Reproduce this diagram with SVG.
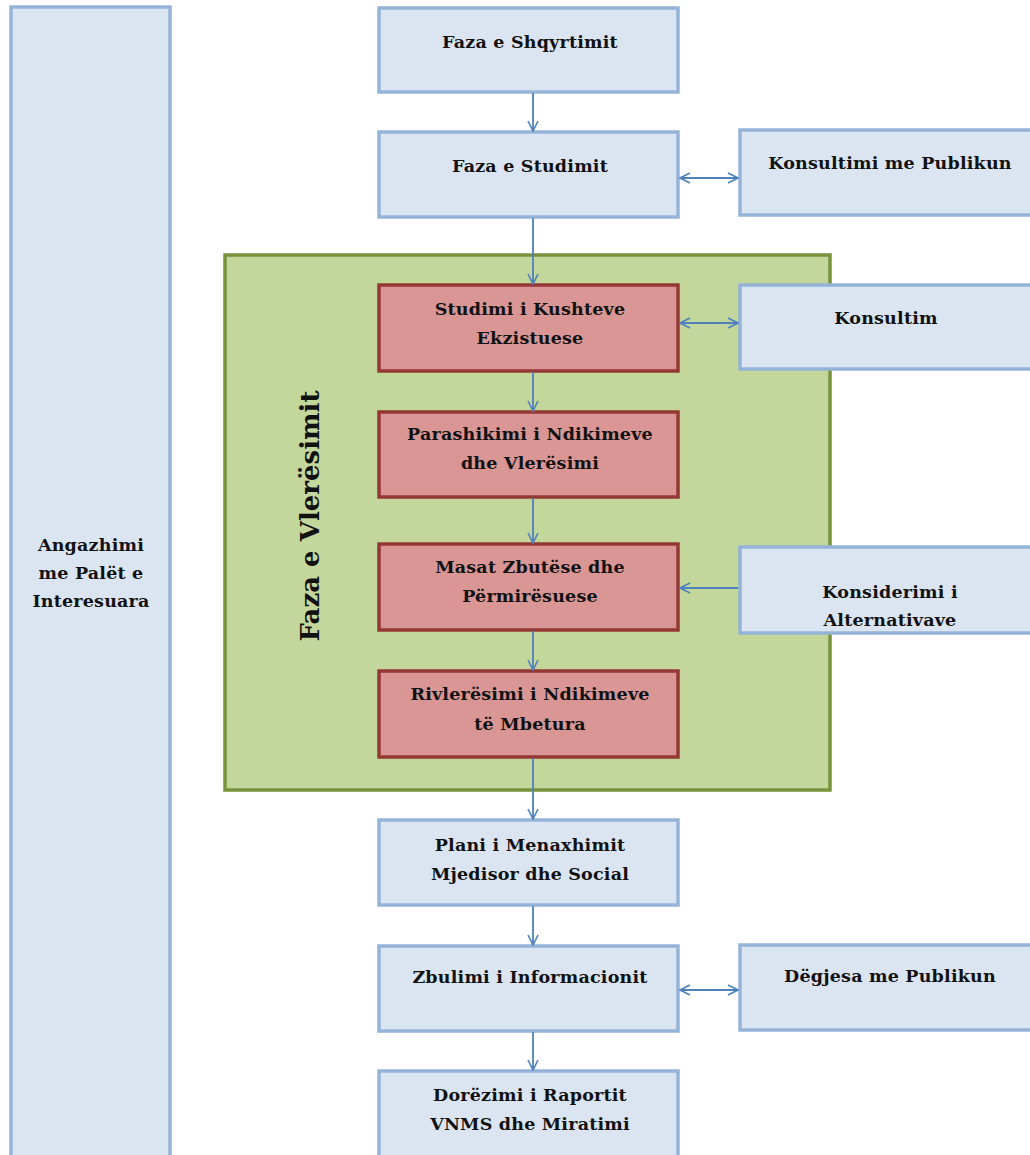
<svg xmlns="http://www.w3.org/2000/svg" width="1030" height="1155" viewBox="0 0 1030 1155">
<defs>
<marker id="arr" viewBox="0 0 12 12" refX="11" refY="6" markerWidth="12" markerHeight="12" markerUnits="userSpaceOnUse" orient="auto-start-reverse">
<path d="M1,1 L11,6 L1,11" fill="none" stroke="#4f81bd" stroke-width="1.6"/>
</marker>
</defs>
<style>
.blue{fill:#dbe5f1;stroke:#95b3d7;stroke-width:3.5}
.red{fill:#d99694;stroke:#953735;stroke-width:3.5}
.green{fill:#c3d69b;stroke:#77933c;stroke-width:3.5}
.t{font-family:"DejaVu Serif","Liberation Serif",serif;font-weight:bold;font-size:17.5px;letter-spacing:0.2px;fill:#111;text-anchor:middle}
.v{font-size:26px;letter-spacing:0}
.c{fill:none;stroke:#4f81bd;stroke-width:1.8}
</style>
<rect width="1030" height="1155" fill="#fff"/>
<g id="stakeholders">
<rect class="blue" x="11" y="7" width="159" height="1160"/>
<text class="t" x="91" y="551">Angazhimi</text>
<text class="t" x="91" y="579">me Palët e</text>
<text class="t" x="91" y="607">Interesuara</text>
</g>
<g id="assessment-phase">
<rect class="green" x="225" y="255" width="605" height="535"/>
<text class="t v" transform="translate(319,516) rotate(-90)">Faza e Vlerësimit</text>
</g>
<g id="screening">
<rect class="blue" x="379" y="8" width="299" height="84"/>
<text class="t" x="530" y="48">Faza e Shqyrtimit</text>
</g>
<g id="study">
<rect class="blue" x="379" y="132" width="299" height="85"/>
<text class="t" x="530" y="172">Faza e Studimit</text>
</g>
<g id="public-consult">
<rect class="blue" x="740" y="130" width="300" height="85"/>
<text class="t" x="890" y="169">Konsultimi me Publikun</text>
</g>
<g id="existing">
<rect class="red" x="379" y="285" width="299" height="86"/>
<text class="t" x="530" y="315">Studimi i Kushteve</text>
<text class="t" x="530" y="344">Ekzistuese</text>
</g>
<g id="consult">
<rect class="blue" x="740" y="285" width="300" height="84"/>
<text class="t" x="886" y="324">Konsultim</text>
</g>
<g id="prediction">
<rect class="red" x="379" y="412" width="299" height="85"/>
<text class="t" x="530" y="440">Parashikimi i Ndikimeve</text>
<text class="t" x="530" y="469">dhe Vlerësimi</text>
</g>
<g id="mitigation">
<rect class="red" x="379" y="544" width="299" height="86"/>
<text class="t" x="530" y="573">Masat Zbutëse dhe</text>
<text class="t" x="530" y="602">Përmirësuese</text>
</g>
<g id="alternatives">
<rect class="blue" x="740" y="547" width="300" height="86"/>
<text class="t" x="890" y="598">Konsiderimi i</text>
<text class="t" x="890" y="626">Alternativave</text>
</g>
<g id="reassessment">
<rect class="red" x="379" y="671" width="299" height="86"/>
<text class="t" x="530" y="700">Rivlerësimi i Ndikimeve</text>
<text class="t" x="530" y="730">të Mbetura</text>
</g>
<g id="management-plan">
<rect class="blue" x="379" y="820" width="299" height="85"/>
<text class="t" x="530" y="851">Plani i Menaxhimit</text>
<text class="t" x="530" y="880">Mjedisor dhe Social</text>
</g>
<g id="disclosure">
<rect class="blue" x="379" y="946" width="299" height="85"/>
<text class="t" x="530" y="983">Zbulimi i Informacionit</text>
</g>
<g id="hearing">
<rect class="blue" x="740" y="945" width="300" height="85"/>
<text class="t" x="890" y="982">Dëgjesa me Publikun</text>
</g>
<g id="submission">
<rect class="blue" x="379" y="1071" width="299" height="100"/>
<text class="t" x="530" y="1101">Dorëzimi i Raportit</text>
<text class="t" x="530" y="1130">VNMS dhe Miratimi</text>
</g>
<g id="connectors">
<line class="c" x1="533" y1="93" x2="533" y2="131" marker-end="url(#arr)"/>
<line class="c" x1="533" y1="218" x2="533" y2="284" marker-end="url(#arr)"/>
<line class="c" x1="533" y1="372" x2="533" y2="411" marker-end="url(#arr)"/>
<line class="c" x1="533" y1="498" x2="533" y2="543" marker-end="url(#arr)"/>
<line class="c" x1="533" y1="631" x2="533" y2="670" marker-end="url(#arr)"/>
<line class="c" x1="533" y1="758" x2="533" y2="819" marker-end="url(#arr)"/>
<line class="c" x1="533" y1="906" x2="533" y2="945" marker-end="url(#arr)"/>
<line class="c" x1="533" y1="1032" x2="533" y2="1070" marker-end="url(#arr)"/>
<line class="c" x1="680" y1="178" x2="738" y2="178" marker-start="url(#arr)" marker-end="url(#arr)"/>
<line class="c" x1="680" y1="323" x2="738" y2="323" marker-start="url(#arr)" marker-end="url(#arr)"/>
<line class="c" x1="738" y1="588" x2="680" y2="588" marker-end="url(#arr)"/>
<line class="c" x1="680" y1="990" x2="738" y2="990" marker-start="url(#arr)" marker-end="url(#arr)"/>
</g>
</svg>
